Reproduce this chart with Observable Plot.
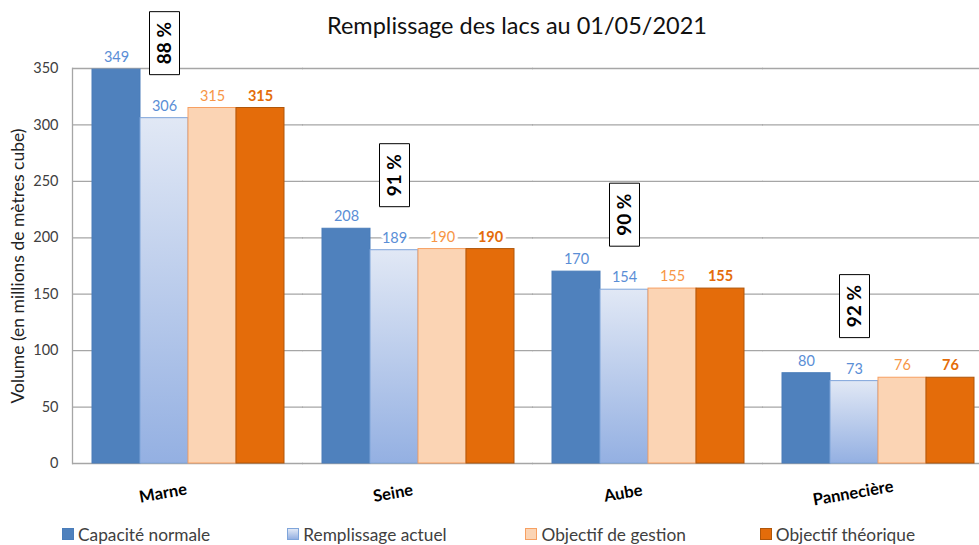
<!DOCTYPE html>
<html><head><meta charset="utf-8">
<script src="https://cdn.jsdelivr.net/npm/d3@7"></script>
<script src="https://cdn.jsdelivr.net/npm/@observablehq/plot@0.6"></script>
<style>
html,body{margin:0;padding:0;background:#fff;overflow:hidden}
body{width:979px;height:545px;font-family:Lato,"Open Sans",sans-serif;position:relative}
#title{position:absolute;left:0;top:0;width:979px;height:50px;line-height:50px;text-align:center;font-size:23.5px;color:#111;padding-left:55px;box-sizing:border-box;z-index:2}
#chart svg{display:block}
#legend{height:28px;display:flex;align-items:center;padding-left:62px;font-size:17.3px;line-height:19px;color:#404040}
#legend .item{display:flex;align-items:center}
#legend .sw{width:10px;height:10px;margin-right:4px;border:1px solid}
</style>
</head><body>
<div id="title">Remplissage des lacs au 01/05/2021</div>
<div id="chart"></div>
<div id="legend"></div>
<script>
const lakes = ["Marne", "Seine", "Aube", "Pannecière"];
const seriesNames = ["Capacité normale", "Remplissage actuel", "Objectif de gestion", "Objectif théorique"];
const capacite = [349, 208, 170, 80];
const remplissage = [306, 189, 154, 73];
const gestion = [315, 190, 155, 76];
const theorique = [315, 190, 155, 76];
const percents = ["88 %", "91 %", "90 %", "92 %"];
const yTicks = [0, 50, 100, 150, 200, 250, 300, 350];
const yLabel = "Volume (en millions de mètres cube)";

const fills = ["#4F81BD", "url(#gradRemp)", "#FBD4B4", "#E46C0A"];
const strokes = ["#4A7DBA", "#7FA5DA", "#F7A062", "#B0560A"];
const labelColors = ["#5A8ED6", "#5A8ED6", "#F79646", "#E46C0A"];
const legendSw = [["#4F81BD","#4A7DBA"],["#C6D5EE","#7FA5DA"],["#FBD4B4","#F7A062"],["#E46C0A","#B0560A"]];

const seriesValues = [capacite, remplissage, gestion, theorique];
const table = [];
lakes.forEach((lake, i) => seriesNames.forEach((s, j) => table.push({lake, series: s, si: j, value: seriesValues[j][i]})));
const pctData = lakes.map((lake, i) => ({lake, value: remplissage[i], pct: percents[i]}));

const boxSymbol = {draw(ctx) { ctx.moveTo(-15, -31.5); ctx.lineTo(15, -31.5); ctx.lineTo(15, 31.5); ctx.lineTo(-15, 31.5); ctx.closePath(); }};

const chart = Plot.plot({
  width: 979,
  height: 520,
  marginLeft: 71,
  marginRight: -16,
  marginTop: 68,
  marginBottom: 57,
  style: {fontFamily: "Lato, 'Open Sans', sans-serif", background: "white", fontSize: "14px"},
  fx: {domain: lakes, paddingInner: 0.159, paddingOuter: 0.082, axis: null, label: null},
  x: {domain: seriesNames, padding: 0, axis: null},
  y: {domain: [0, 350], axis: null},
  color: {domain: seriesNames, range: fills},
  marks: [
    Plot.ruleY(yTicks, {stroke: "#A6A6A6", strokeWidth: 1.3, insetLeft: -19, insetRight: -19}),
    Plot.frame({anchor: "left", facetAnchor: "left", insetLeft: -19, stroke: "#A6A6A6", strokeWidth: 1.3}),
    Plot.axisY({ticks: yTicks, tickSize: 0, tickPadding: 33, fontSize: 14.5, fill: "#404040", label: null}),
    Plot.text([yLabel], {fx: () => lakes[0], text: d => d, frameAnchor: "left", textAnchor: "middle", dx: -73, rotate: -90, fontSize: 17.5, fill: "#222"}),
    Plot.barY(table, {fx: "lake", x: "series", y: "value", fill: "series", stroke: d => strokes[d.si], strokeWidth: 1}),
    Plot.text(table.filter(d => d.si < 3), {fx: "lake", x: "series", y: "value", text: d => String(d.value),
      fill: d => labelColors[d.si], dy: -12, fontSize: 14.5, stroke: "white", strokeWidth: 6}),
    Plot.text(table.filter(d => d.si === 3), {fx: "lake", x: "series", y: "value", text: d => String(d.value),
      fill: d => labelColors[d.si], dy: -12, fontSize: 14.5, fontWeight: "bold", stroke: "white", strokeWidth: 6}),
    Plot.dot(pctData, {fx: "lake", x: d => seriesNames[1], y: "value", dy: -75, symbol: boxSymbol, r: 1, fill: "white", stroke: "black", strokeWidth: 1}),
    Plot.text(pctData, {fx: "lake", x: d => seriesNames[1], y: "value", dy: -75, text: "pct", rotate: -90, fontSize: 19, fontWeight: "bold", fill: "black"}),
    Plot.text(lakes, {fx: d => d, text: d => d, frameAnchor: "bottom", dy: 35, dx: -24, rotate: -10, fontSize: 16.5, fontWeight: "bold", fill: "black"})
  ]
});

const defs = d3.select(chart).insert("defs", ":first-child");
const g = defs.append("linearGradient").attr("id", "gradRemp").attr("x1", 0).attr("y1", 0).attr("x2", 0).attr("y2", 1);
g.append("stop").attr("offset", "0%").attr("stop-color", "#E1E8F5");
g.append("stop").attr("offset", "100%").attr("stop-color", "#94B0E2");

document.getElementById("chart").appendChild(chart);

const legend = document.getElementById("legend");
const widths = [226, 239, 235, 220];
seriesNames.forEach((s, i) => {
  const it = document.createElement("div");
  it.className = "item";
  it.style.width = widths[i] + "px";
  const sw = document.createElement("span");
  sw.className = "sw";
  sw.style.background = i === 1 ? "linear-gradient(#E1E8F5,#94B0E2)" : legendSw[i][0];
  sw.style.borderColor = legendSw[i][1];
  const tx = document.createElement("span");
  tx.textContent = s;
  it.appendChild(sw); it.appendChild(tx);
  legend.appendChild(it);
});
</script>
</body></html>
